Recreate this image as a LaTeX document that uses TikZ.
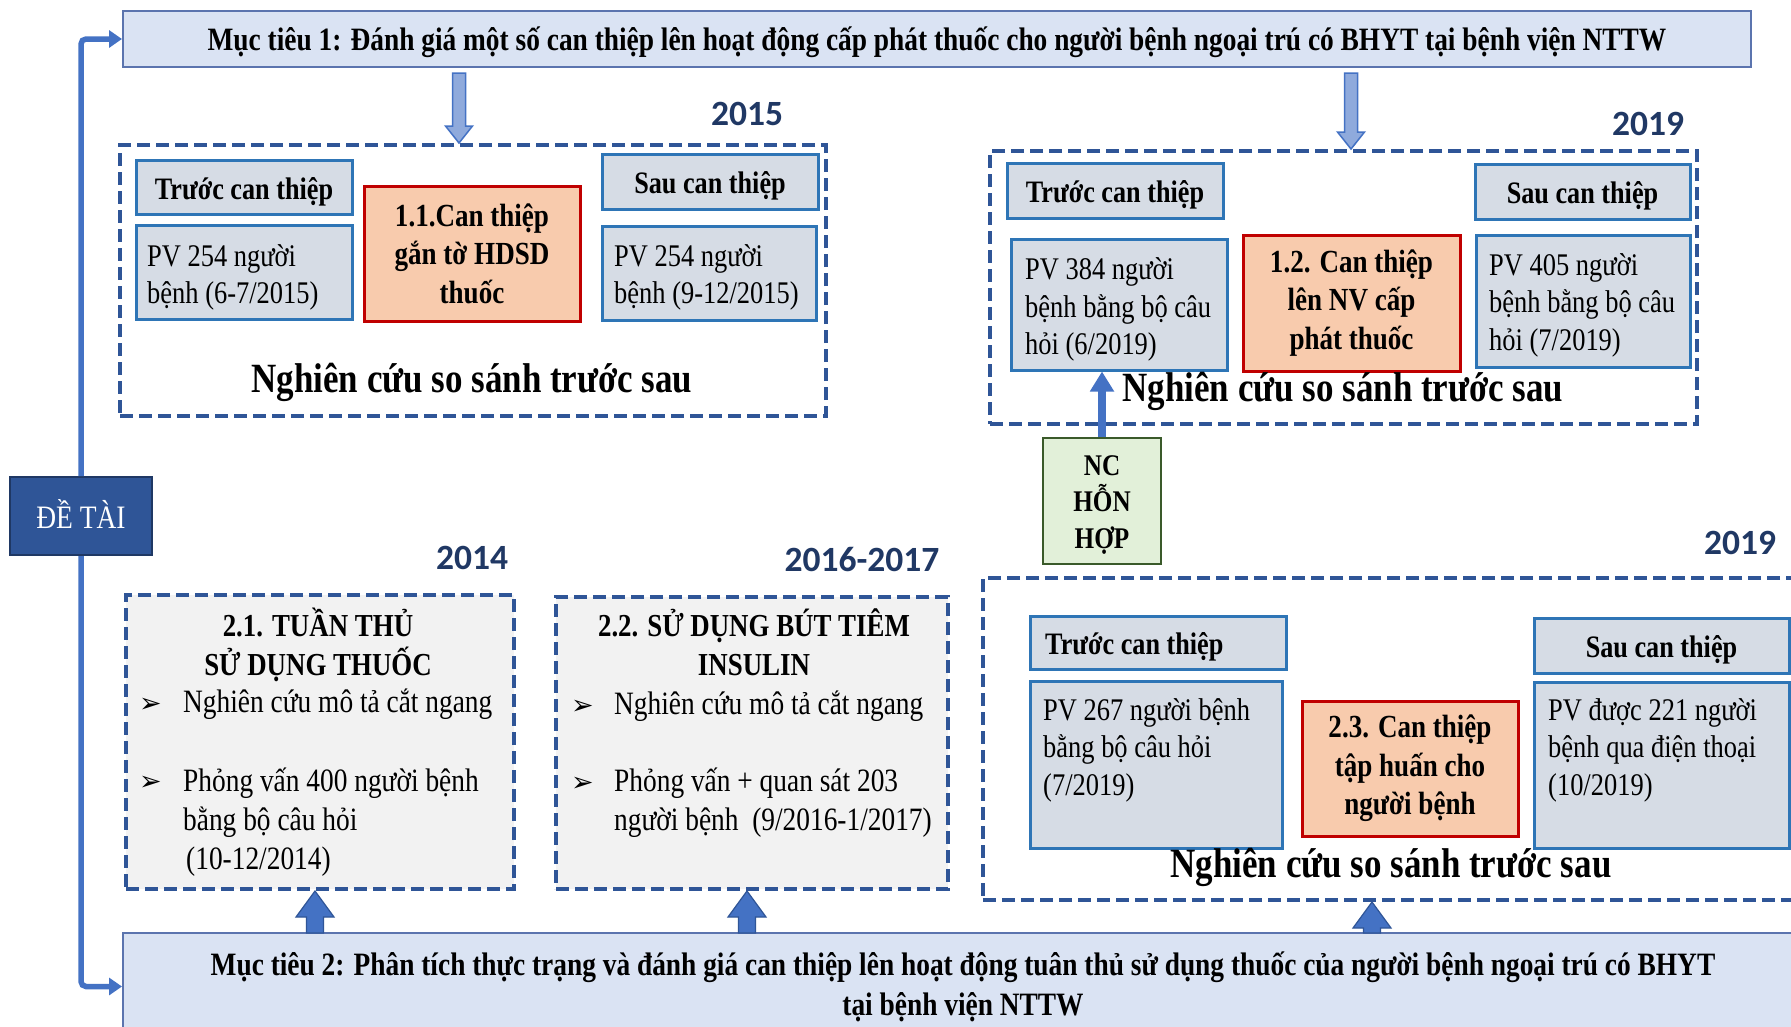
\documentclass[tikz,border=0pt]{standalone}
\usepackage{fontspec}
\setmainfont{Liberation Serif}[FakeStretch=0.84]
\newfontfamily\yearfont{Carlito}
\newfontfamily\symfont{DejaVu Sans}
\usetikzlibrary{calc,arrows.meta}
\definecolor{goalfill}{HTML}{DAE3F3}
\definecolor{goalline}{HTML}{5B74AE}
\definecolor{hdrfill}{HTML}{D6DCE5}
\definecolor{hdrline}{HTML}{2E75B6}
\definecolor{orfill}{HTML}{F8CBAD}
\definecolor{orline}{HTML}{C00000}
\definecolor{dashcol}{HTML}{2F5597}
\definecolor{grayfill}{HTML}{F2F2F2}
\definecolor{navy}{HTML}{203864}
\definecolor{arrblue}{HTML}{4472C4}
\definecolor{lightarr}{HTML}{8FAADC}
\definecolor{ncfill}{HTML}{E2F0D9}
\definecolor{ncline}{HTML}{3A5A2A}
\definecolor{dtfill}{HTML}{2F5597}
\definecolor{dtline}{HTML}{1F3864}
\newcommand\vblk[6]{\draw[#1] ($(#2)+(-#4,0)$) -- ($(#3)+(-#4,#6)$) -- ($(#3)+(-#5,#6)$) -- (#3) -- ($(#3)+(#5,#6)$) -- ($(#3)+(#4,#6)$) -- ($(#2)+(#4,0)$) -- cycle;}
\begin{document}
\begin{tikzpicture}[x=1pt,y=-1pt,
  goal/.style={draw=goalline, fill=goalfill, line width=2pt, inner sep=0pt},
  goaltext/.style={inner sep=0pt, align=center, font=\bfseries\fontsize{32.6}{40}\selectfont},
  hdr/.style={draw=hdrline, fill=hdrfill, line width=3pt, inner sep=0pt, text height=31.5pt, text depth=7pt,
    font=\bfseries\fontsize{31.2}{36}\selectfont},
  hdrtext/.style={anchor=west, inner sep=0pt, font=\bfseries\fontsize{31.2}{36}\selectfont},
  pvbox/.style={draw=hdrline, fill=hdrfill, line width=3pt, inner sep=0pt},
  pvtext/.style={anchor=west, inner sep=0pt, align=left, font=\fontsize{31.5}{37.5}\selectfont},
  inter/.style={draw=orline, fill=orfill, line width=3pt, inner sep=0pt, align=center,
    font=\bfseries\fontsize{32.2}{38.5}\selectfont},
  dashbox/.style={draw=dashcol, line width=4pt, dash pattern=on 13pt off 6pt, inner sep=0pt},
  compare/.style={inner sep=0pt, font=\bfseries\fontsize{41.6}{46}\selectfont},
  year/.style={inner sep=0pt, text=navy, font=\yearfont\bfseries\fontsize{35.5}{40}\selectfont},
  ttl/.style={inner sep=0pt, align=center, font=\bfseries\fontsize{32}{39}\selectfont},
  bul/.style={anchor=west, inner sep=0pt, font=\symfont\fontsize{27}{30}\selectfont},
  btxt/.style={anchor=west, inner sep=0pt, align=left, font=\fontsize{32.6}{39}\selectfont},
  conn/.style={draw=arrblue, line width=5.5pt, rounded corners=5pt, -{Triangle[width=17pt,length=13pt]}},
  ncarrow/.style={draw=arrblue, line width=8pt, -{Triangle[width=23pt,length=20pt]}},
  toparrow/.style={draw=arrblue, fill=lightarr, line width=1.5pt, line join=miter},
  botarrow/.style={draw=dashcol, fill=arrblue, line width=1.2pt, line join=miter}
]
\useasboundingbox (0,0) rectangle (1791,1026);
\clip (0,0) rectangle (1791,1026);
\fill[white] (0,0) rectangle (1791,1026);

% goals
\node[goal, minimum width=1628pt, minimum height=56pt] (m1) at (937,39) {};
\node[goaltext] (m1t) at (937,42.5)
  {Mục tiêu 1: Đánh giá một số can thiệp lên hoạt động cấp phát thuốc cho người bệnh ngoại trú có BHYT tại bệnh viện NTTW};
\node[goal, minimum width=1680pt, minimum height=107pt] (m2) at (963,986.5) {};
\node[goaltext] (m2t) at (963,987)
  {Mục tiêu 2: Phân tích thực trạng và đánh giá can thiệp lên hoạt động tuân thủ sử dụng thuốc của người bệnh ngoại trú có BHYT\\tại bệnh viện NTTW};

% de tai
\node[draw=dtline, fill=dtfill, line width=2pt, text=white, minimum width=142pt, minimum height=78pt,
  inner sep=0pt, font=\fontsize{32.7}{36}\selectfont] (dt) at (81,516) {};
\node[inner sep=0pt, text=white, font=\fontsize{32.7}{36}\selectfont] (dtt) at (81,514) {ĐỀ TÀI};
\draw[conn] (dt.north) |- (m1.west);
\draw[conn] (dt.south) |- (m2.west);

% ---------- block 2015
\node[dashbox, minimum width=706pt, minimum height=271pt] (d1) at (473,280.5) {};
\node[hdr, minimum width=216pt, minimum height=54pt] (t1) at (244,187) {Trước can thiệp};
\node[pvbox, minimum width=216pt, minimum height=94pt] (p1) at (244,272) {};
\node[pvtext] (p1t) at (147,277.5) {PV 254 người\\bệnh (6-7/2015)};
\node[inter, minimum width=216pt, minimum height=135pt] (o1) at (472,253.5) {1.1.Can thiệp\\gắn tờ HDSD\\thuốc};
\node[hdr, minimum width=216pt, minimum height=55pt] (s1) at (710,181.5) {Sau can thiệp};
\node[pvbox, minimum width=214pt, minimum height=94pt] (q1) at (709,273) {};
\node[pvtext] (q1t) at (614,277.5) {PV 254 người\\bệnh (9-12/2015)};
\node[compare] (n1) at (472,382.5) {Nghiên cứu so sánh trước sau};
\node[year] (y1) at (747,114) {2015};

% ---------- block 2019 (top)
\node[dashbox, minimum width=707pt, minimum height=273pt] (d2) at (1343.5,287.5) {};
\node[hdr, minimum width=216pt, minimum height=55pt] (t2) at (1115,190.5) {Trước can thiệp};
\node[pvbox, minimum width=216pt, minimum height=131pt] (p2) at (1119,304.5) {};
\node[pvtext] (p2t) at (1025,309.5) {PV 384 người\\bệnh bằng bộ câu\\hỏi (6/2019)};
\node[inter, minimum width=217pt, minimum height=136pt] (o2) at (1351.5,303) {1.2. Can thiệp\\lên NV cấp\\phát thuốc};
\node[hdr, minimum width=215pt, minimum height=55pt] (s2) at (1582.5,191.5) {Sau can thiệp};
\node[pvbox, minimum width=214pt, minimum height=132pt] (q2) at (1583,301) {};
\node[pvtext] (q2t) at (1489,305) {PV 405 người\\bệnh bằng bộ câu\\hỏi (7/2019)};
\node[compare] (n2) at (1343,391.5) {Nghiên cứu so sánh trước sau};
\node[year] (y2) at (1648,123.5) {2019};

% NC hon hop
\node[draw=ncline, fill=ncfill, line width=2.5pt, minimum width=118pt, minimum height=126pt, inner sep=0pt] (nc) at (1102,501) {};
\node[inner sep=0pt, align=center, font=\bfseries\fontsize{30}{36.5}\selectfont] (nct) at (1102,505) {NC\\HỖN\\HỢP};
\draw[ncarrow] (nc.north) -- (nc.north |- p2.south);

% top arrows
\coordinate (a1s) at (459,73);
\coordinate (a2s) at (1351,73);
\vblk{toparrow}{a1s}{a1s |- d1.north}{6.5}{13.5}{-17}
\vblk{toparrow}{a2s}{a2s |- d2.north}{6.5}{13.5}{-17}

% ---------- 2.1
\node[year] (y3) at (472,557.5) {2014};
\node[dashbox, fill=grayfill, minimum width=388pt, minimum height=294pt] (d21) at (320,742) {};
\node[ttl] (h21) at (318,644.5) {2.1. TUẦN THỦ\\SỬ DỤNG THUỐC};
\node[bul] (u11) at (139,705) {➢};
\node[btxt] (x11) at (183,704) {Nghiên cứu mô tả cắt ngang};
\node[bul] (u12) at (139,783) {➢};
\node[btxt] (x12) at (183,822) {Phỏng vấn 400 người bệnh\\bằng bộ câu hỏi\\\hspace{3pt}(10-12/2014)};

% ---------- 2.2
\node[year] (y4) at (862,559.5) {2016-2017};
\node[dashbox, fill=grayfill, minimum width=392pt, minimum height=292pt] (d22) at (752,743) {};
\node[ttl] (h22) at (754,642.5) {2.2. SỬ DỤNG BÚT TIÊM\\INSULIN};
\node[bul] (u21) at (571,707) {➢};
\node[btxt] (x21) at (614,706) {Nghiên cứu mô tả cắt ngang};
\node[bul] (u22) at (571,784) {➢};
\node[btxt] (x22) at (614,803) {Phỏng vấn + quan sát 203\\người bệnh\ \ (9/2016-1/2017)};

% ---------- 2.3
\node[year] (y5) at (1740,542.5) {2019};
\node[dashbox, minimum width=817pt, minimum height=322pt] (d23) at (1391.5,739) {};
\node[hdr, minimum width=256pt, minimum height=53pt] (t3) at (1158,642.5) {};
\node[hdrtext] (t3t) at (1045,646.5) {Trước can thiệp};
\node[pvbox, minimum width=252pt, minimum height=167pt] (p3) at (1156,764.5) {};
\node[pvtext] (p3t) at (1043,750) {PV 267 người bệnh\\bằng bộ câu hỏi\\(7/2019)};
\node[inter, minimum width=216pt, minimum height=135pt] (o3) at (1410,768.5) {2.3. Can thiệp\\tập huấn cho\\người bệnh};
\node[hdr, minimum width=255pt, minimum height=55pt] (s3) at (1661.5,645.5) {Sau can thiệp};
\node[pvbox, minimum width=255pt, minimum height=166pt] (q3) at (1661.5,765) {};
\node[pvtext] (q3t) at (1548,750) {PV được 221 người\\bệnh qua điện thoại\\(10/2019)};
\node[compare] (n3) at (1391,867.5) {Nghiên cứu so sánh trước sau};

% bottom arrows
\coordinate (b1s) at (315,933);
\coordinate (b2s) at (747,933);
\coordinate (b3s) at (1372,933);
\vblk{botarrow}{b1s}{b1s |- d21.south}{8.5}{19}{26}
\vblk{botarrow}{b2s}{b2s |- d22.south}{8.5}{19}{26}
\vblk{botarrow}{b3s}{b3s |- d23.south}{8.5}{19}{26}
\end{tikzpicture}
\end{document}
